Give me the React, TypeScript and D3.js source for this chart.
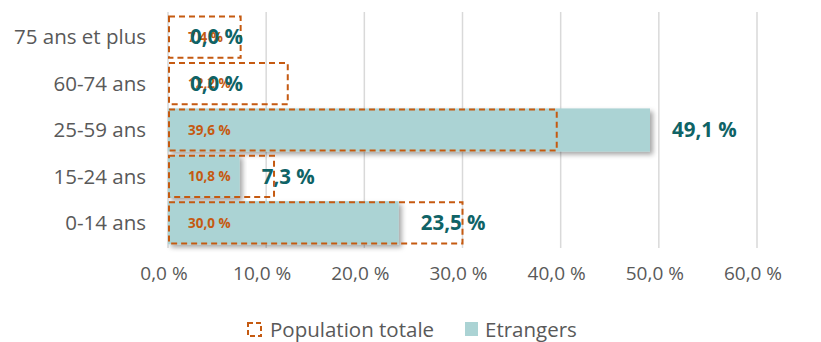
import React from 'react';
import * as d3 from 'd3';

const categories = ['75 ans et plus', '60-74 ans', '25-59 ans', '15-24 ans', '0-14 ans'];
const populationTotale = [7.4, 12.2, 39.6, 10.8, 30.0];
const etrangers = [0.0, 0.0, 49.1, 7.3, 23.5];
const xTicks = [0, 10, 20, 30, 40, 50, 60];

const W = 821;
const H = 342;
const margin = { top: 14, right: 64, bottom: 96, left: 168 };
const FONT = '"Open Sans", Lato, sans-serif';

const fmt = (v: number) => v.toFixed(1).replace('.', ',') + ' %';

export default function App() {
  const x = d3.scaleLinear().domain([0, 60]).range([margin.left, W - margin.right]);
  const y = d3.scaleBand<string>()
    .domain(categories)
    .range([margin.top, H - margin.bottom])
    .paddingInner(0.07)
    .paddingOuter(0.035);
  const bh = y.bandwidth();

  return (
    <svg width={W} height={H} style={{ position: 'fixed', left: 0, top: 0, background: '#fff' }} fontFamily={FONT}>
      <defs>
        <filter id="shadow" x="-5%" y="-20%" width="115%" height="160%">
          <feDropShadow dx="3" dy="3" stdDeviation="2.5" floodColor="#000" floodOpacity="0.35" />
        </filter>
      </defs>

      {/* gridlines */}
      {xTicks.map(t => (
        <line key={t} x1={x(t)} x2={x(t)} y1={margin.top - 2} y2={H - margin.bottom + 2}
          stroke="#D9D9D9" strokeWidth={1.5} />
      ))}

      {/* etrangers bars */}
      {categories.map((c, i) => (
        etrangers[i] > 0 ? (
          <rect key={c} x={x(0)} y={y(c)!} width={x(etrangers[i]) - x(0)} height={bh}
            fill="#ABD3D4" filter="url(#shadow)" />
        ) : null
      ))}

      {/* population totale dashed boxes */}
      {categories.map((c, i) => (
        <rect key={c} x={x(0) + 1} y={y(c)! + 1} width={x(populationTotale[i]) - x(0) - 1} height={bh - 2}
          fill="none" stroke="#C55A11" strokeWidth={2} strokeDasharray="6 4" />
      ))}

      {/* population labels */}
      {categories.map((c, i) => (
        <text key={c} x={x(0) + 20} y={y(c)! + bh / 2} dy="0.35em" fontSize={13.5} fontWeight={700}
          fill="#C55A11">{fmt(populationTotale[i])}</text>
      ))}

      {/* etrangers labels */}
      {categories.map((c, i) => (
        <text key={c} x={x(etrangers[i]) + 22} y={y(c)! + bh / 2} dy="0.35em" fontSize={20.5} fontWeight={700}
          fill="#0F6366">{fmt(etrangers[i])}</text>
      ))}

      {/* y axis labels */}
      {categories.map(c => (
        <text key={c} x={margin.left - 22} y={y(c)! + bh / 2} dy="0.35em" textAnchor="end"
          fontSize={20.5} fill="#595959">{c}</text>
      ))}

      {/* x axis labels */}
      {xTicks.map(t => (
        <text key={t} x={x(t) - 4} y={H - margin.bottom + 27} dy="0.35em" textAnchor="middle"
          fontSize={19} fill="#595959">{fmt(t)}</text>
      ))}

      {/* legend */}
      <g transform="translate(247, 322)">
        <rect x={1} y={1} width={13} height={13} fill="none" stroke="#C55A11" strokeWidth={2} strokeDasharray="5 3" />
        <text x={23} y={7.5} dy="0.35em" fontSize={20.5} fill="#595959">Population totale</text>
        <rect x={218} y={0} width={13} height={14} fill="#ABD3D4" />
        <text x={238} y={7.5} dy="0.35em" fontSize={20.5} fill="#595959">Etrangers</text>
      </g>
    </svg>
  );
}
